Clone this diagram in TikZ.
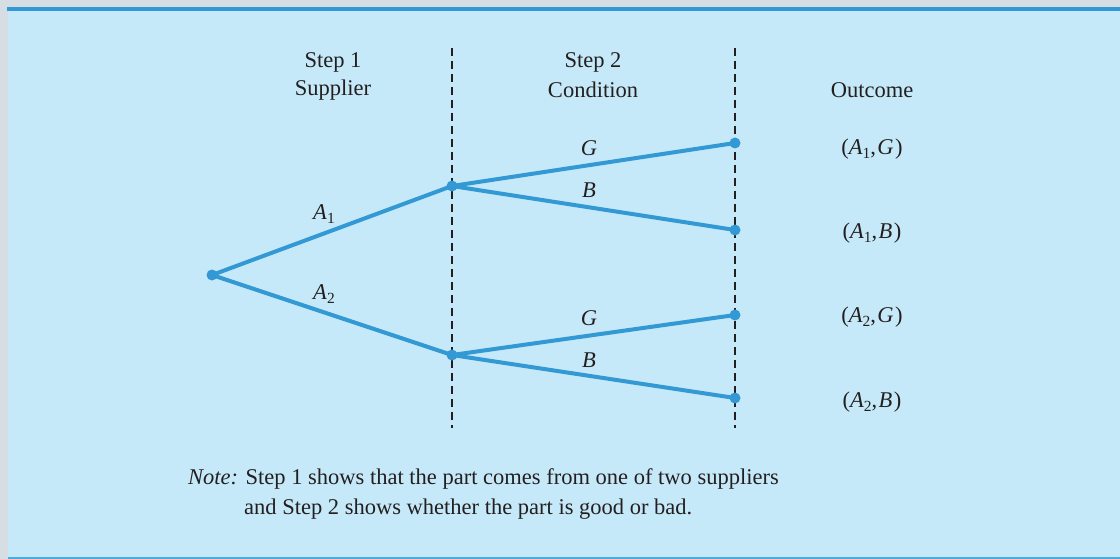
\documentclass[tikz,border=0pt]{standalone}
\usepackage{fontspec}
\setmainfont{Liberation Serif}
\definecolor{pagegray}{HTML}{D6DDE3}
\definecolor{panel}{HTML}{C6E9F9}
\definecolor{branch}{HTML}{3399D4}
\definecolor{ink}{HTML}{231F20}
% italic variable with a lowered numeric subscript
\newcommand{\vsub}[2]{\textit{#1}\raisebox{-0.42ex}{\fontsize{15.5}{16}\selectfont #2}}
\newcommand{\pv}[2]{(\vsub{A}{#1},\kern1.5pt\textit{#2}\kern1.5pt)}
\begin{document}
\begin{tikzpicture}[x=1pt,y=-1pt,
  txt/.style={font=\fontsize{22.5}{26}\selectfont, text=ink, inner sep=0pt},
  tree/.style={line width=4pt, branch},
  dot/.style={circle, fill=branch, inner sep=0pt, minimum size=11pt},
  divider/.style={line width=1.8pt, ink, dash pattern=on 8pt off 5pt}]
  % page and panel
  \fill[pagegray] (0,0) rectangle (1120,559);
  \useasboundingbox (0,0) rectangle (1120,559);
  \fill[panel] (8,11) rectangle (1120,559);
  \fill[branch] (7,7) rectangle (1120,11.5);
  \fill[branch!80!panel] (8,557) rectangle (1120,559);

  % stage dividers
  \coordinate (d1t) at (452,48); \coordinate (d1b) at (452,428);
  \coordinate (d2t) at (735,48); \coordinate (d2b) at (735,428);
  \draw[divider] (d1t) -- (d1b);
  \draw[divider] (d2t) -- (d2b);

  % headers
  \node[txt] (h1a) at (333,62) {Step 1};
  \node[txt] (h1b) at (333,90) {Supplier};
  \node[txt] (h2a) at (593,62) {Step 2};
  \node[txt] (h2b) at (593,90) {Condition};
  \node[txt] (h3)  at (872,90) {Outcome};

  % tree nodes
  \node[dot] (r)  at (212,275) {};
  \node[dot] (a1) at (452,186) {};
  \node[dot] (a2) at (452,355) {};
  \node[dot] (l1) at (735,143) {};
  \node[dot] (l2) at (735,230) {};
  \node[dot] (l3) at (735,315) {};
  \node[dot] (l4) at (735,398) {};

  % branches
  \draw[tree] (r.center) -- (a1.center);
  \draw[tree] (r.center) -- (a2.center);
  \draw[tree] (a1.center) -- (l1.center);
  \draw[tree] (a1.center) -- (l2.center);
  \draw[tree] (a2.center) -- (l3.center);
  \draw[tree] (a2.center) -- (l4.center);

  % branch labels
  \node[txt] (la1) at (324,214) {\vsub{A}{1}};
  \node[txt] (la2) at (324,294) {\vsub{A}{2}};
  \node[txt] (lg1) at (589,148) {\textit{G}};
  \node[txt] (lb1) at (589,190) {\textit{B}};
  \node[txt] (lg2) at (589,318) {\textit{G}};
  \node[txt] (lb2) at (589,360) {\textit{B}};

  % outcomes
  \node[txt] (o1) at (872,149) {\pv{1}{G}};
  \node[txt] (o2) at (872,233) {\pv{1}{B}};
  \node[txt] (o3) at (872,317) {\pv{2}{G}};
  \node[txt] (o4) at (872,402) {\pv{2}{B}};

  % note
  \node[txt, anchor=west] (n1) at (188,479) {\textit{Note:} Step 1 shows that the part comes from one of two suppliers};
  \node[txt, anchor=west] (n2) at (244,509) {and Step 2 shows whether the part is good or bad.};
\end{tikzpicture}
\end{document}
